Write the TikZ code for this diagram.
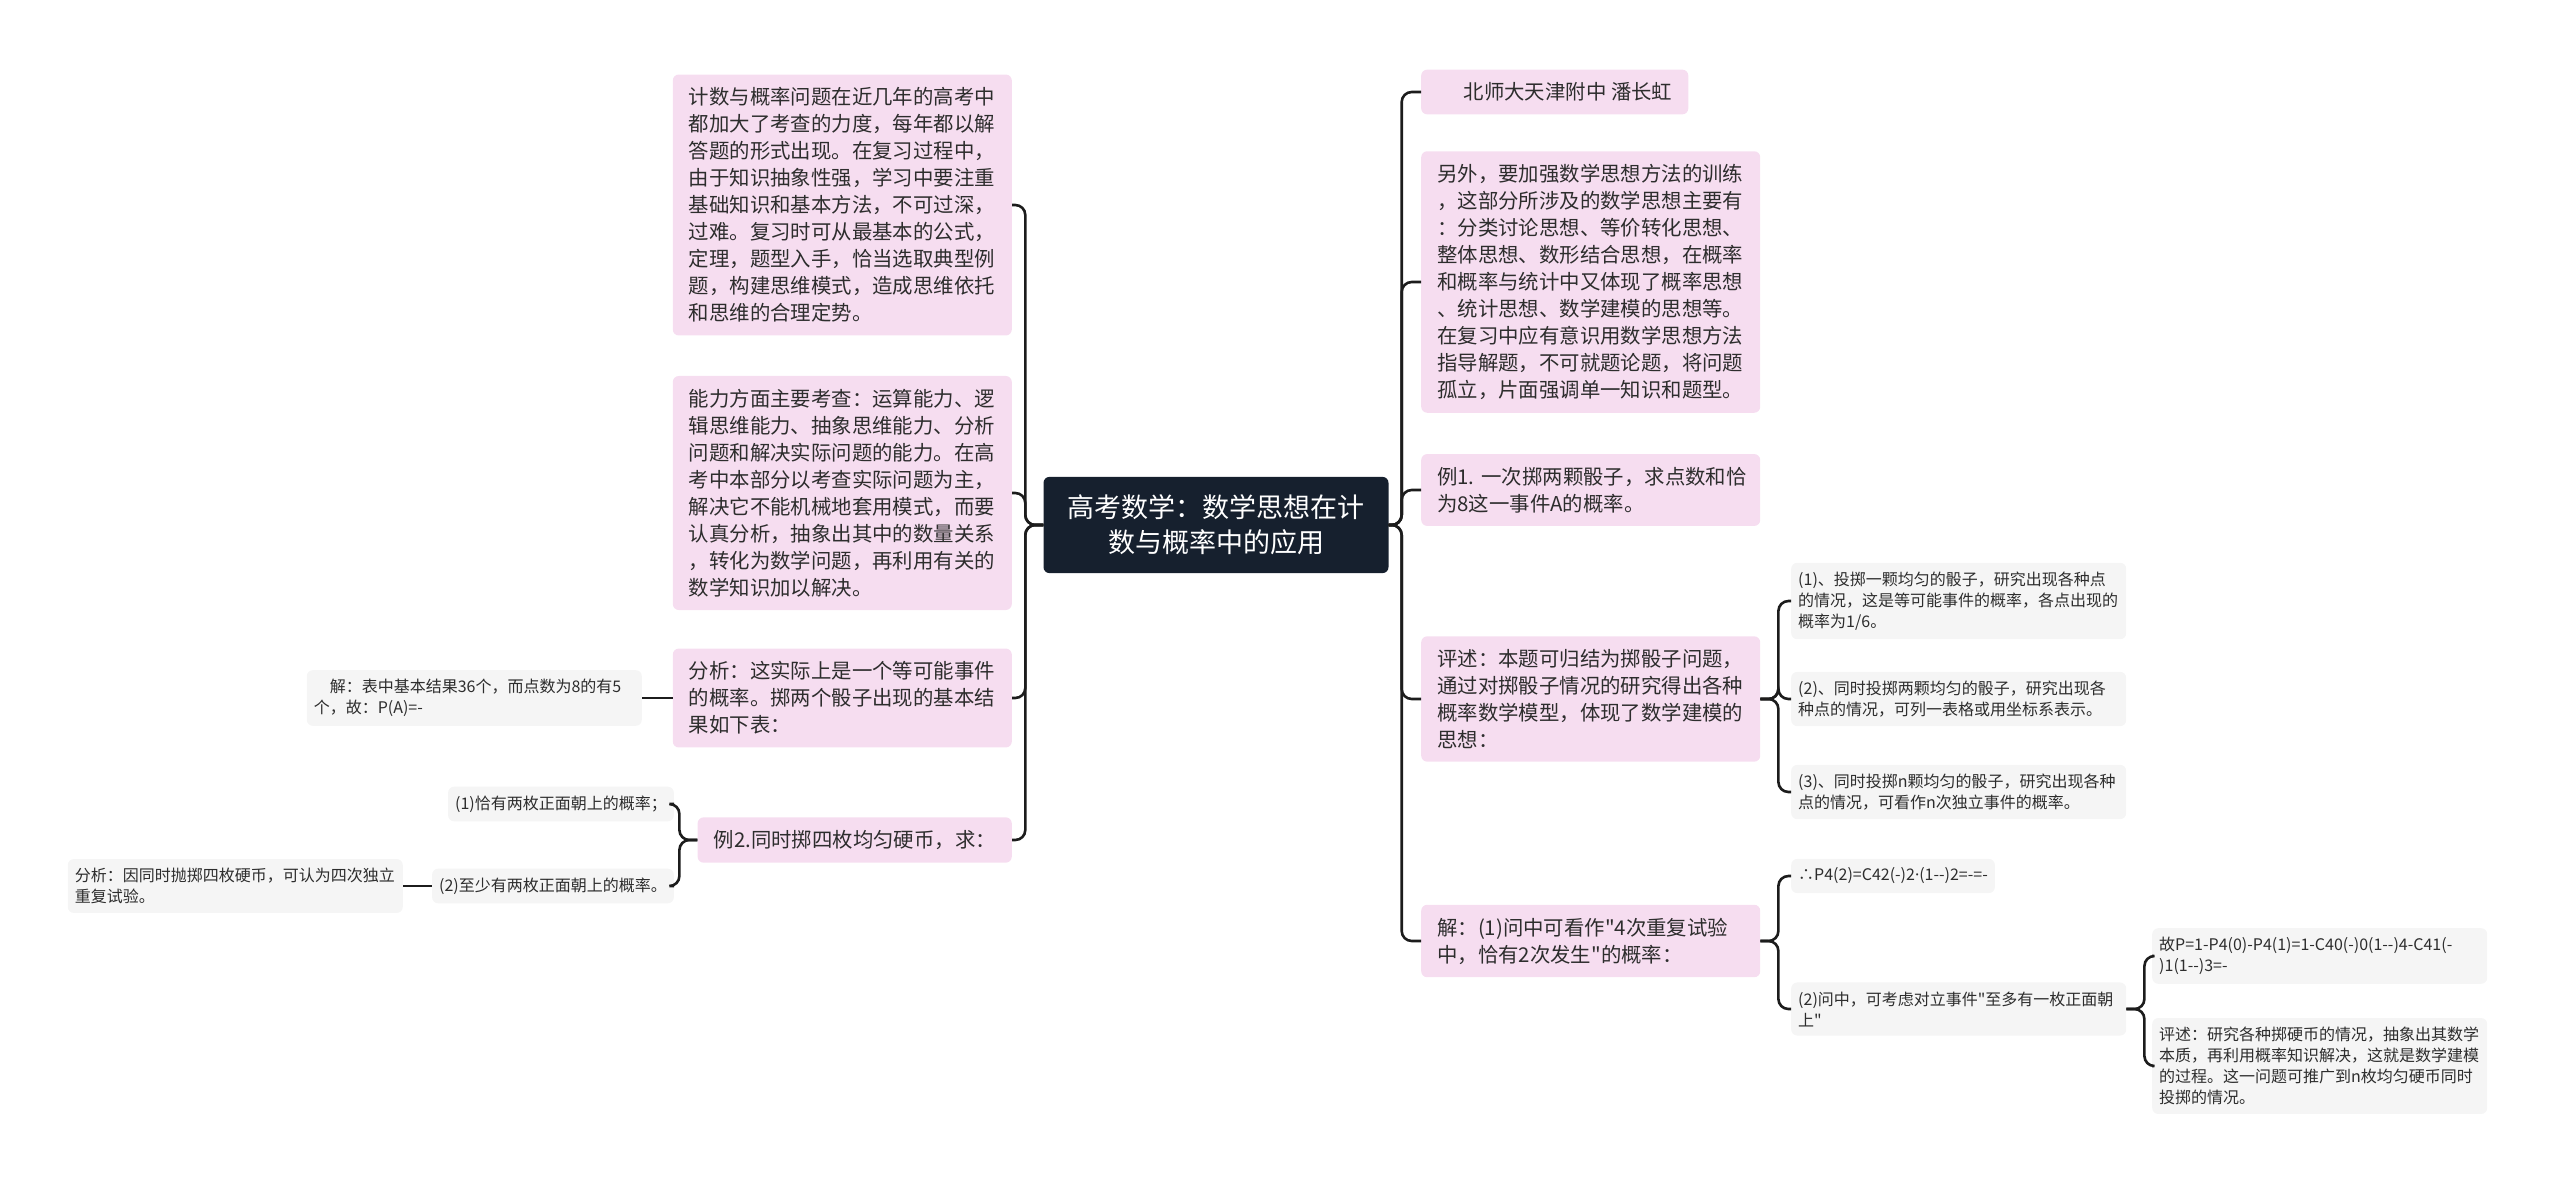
\documentclass[tikz,border=0pt]{standalone}
\usepackage{fontspec}
\newfontfamily\cjk{Noto Sans CJK SC}
\newfontfamily\latin{Noto Sans}

\definecolor{rootbg}{RGB}{22,32,46}
\definecolor{pinkbg}{RGB}{246,221,240}
\definecolor{graybg}{RGB}{245,245,245}
\definecolor{ink}{RGB}{45,45,45}
\definecolor{wire}{RGB}{28,28,28}

\tikzset{
    root/.style={fill=rootbg, text=white, rounded corners=6pt, align=center,
        inner xsep=24pt, inner ysep=18pt, font=\cjk\fontsize{27}{35}\selectfont},
    sub/.style={fill=pinkbg, text=ink, rounded corners=6pt, align=left,
        inner xsep=16pt, inner ysep=13pt, font=\cjk\fontsize{20.4}{27}\selectfont},
    leaf/.style={fill=graybg, text=ink, rounded corners=6pt, align=left,
        inner xsep=7pt, inner ysep=9pt, font=\cjk\fontsize{16}{21}\selectfont},
    subwide/.style={sub, text width=307pt},
    leafwide/.style={leaf, text width=321pt},
    link/.style={draw=wire, line width=2.6pt, rounded corners=10pt},
}

\begin{document}
\begin{tikzpicture}[x=1pt, y=-1pt]
    \useasboundingbox (0,0) rectangle (2560,1186);

    \node [root] (root) at (1216,525) {高考数学：数学思想在计\\数与概率中的应用};

    % left branches
    \node [subwide, anchor=east] (a1) at (1012,205) {计数与概率问题在近几年的高考中\\都加大了考查的力度，每年都以解\\答题的形式出现。在复习过程中，\\由于知识抽象性强，学习中要注重\\基础知识和基本方法，不可过深，\\过难。复习时可从最基本的公式，\\定理，题型入手，恰当选取典型例\\题，构建思维模式，造成思维依托\\和思维的合理定势。};
    \node [subwide, anchor=east] (a2) at (1012,493) {能力方面主要考查：运算能力、逻\\辑思维能力、抽象思维能力、分析\\问题和解决实际问题的能力。在高\\考中本部分以考查实际问题为主，\\解决它不能机械地套用模式，而要\\认真分析，抽象出其中的数量关系\\，转化为数学问题，再利用有关的\\数学知识加以解决。};
    \node [subwide, anchor=east] (a3) at (1012,698) {分析：这实际上是一个等可能事件\\的概率。掷两个骰子出现的基本结\\果如下表：};
    \node [leafwide, anchor=east] (b1) at (642,698) {\hspace*{1em}解：表中基本结果36个，而点数为8的有5\\个，故：P(A)=-};
    \node [sub, anchor=east] (a4) at (1012,840) {例2.同时掷四枚均匀硬币，求：};
    \node [leaf, anchor=east] (c1) at (674,804) {(1)恰有两枚正面朝上的概率；};
    \node [leaf, anchor=east] (c2) at (674,886) {(2)至少有两枚正面朝上的概率。};
    \node [leafwide, anchor=east] (d1) at (403,886) {分析：因同时抛掷四枚硬币，可认为四次独立\\重复试验。};

    % right branches
    \node [sub, anchor=west] (r1) at (1421,92) {\hspace*{1.3em}北师大天津附中 潘长虹};
    \node [subwide, anchor=west] (r2) at (1421,282) {另外，要加强数学思想方法的训练\\，这部分所涉及的数学思想主要有\\：分类讨论思想、等价转化思想、\\整体思想、数形结合思想，在概率\\和概率与统计中又体现了概率思想\\、统计思想、数学建模的思想等。\\在复习中应有意识用数学思想方法\\指导解题，不可就题论题，将问题\\孤立，片面强调单一知识和题型。};
    \node [subwide, anchor=west] (r3) at (1421,490) {例1.~一次掷两颗骰子，求点数和恰\\为8这一事件A的概率。};
    \node [subwide, anchor=west] (r4) at (1421,699) {评述：本题可归结为掷骰子问题，\\通过对掷骰子情况的研究得出各种\\概率数学模型，体现了数学建模的\\思想：};
    \node [subwide, anchor=west] (r5) at (1421,941) {解：(1)问中可看作"4次重复试验\\中，恰有2次发生"的概率：};

    \node [leafwide, anchor=west] (s1) at (1791,601) {(1)、投掷一颗均匀的骰子，研究出现各种点\\的情况，这是等可能事件的概率，各点出现的\\概率为1/6。};
    \node [leafwide, anchor=west] (s2) at (1791,699) {(2)、同时投掷两颗均匀的骰子，研究出现各\\种点的情况，可列一表格或用坐标系表示。};
    \node [leafwide, anchor=west] (s3) at (1791,792) {(3)、同时投掷n颗均匀的骰子，研究出现各种\\点的情况，可看作n次独立事件的概率。};
    \node [leaf, anchor=west] (t1) at (1791,876) {∴P4(2)=C42(-)2{\latin ·}(1-{}-)2=-=-};
    \node [leafwide, anchor=west] (t2) at (1791,1009) {(2)问中，可考虑对立事件"至多有一枚正面朝\\上"};
    \node [leafwide, anchor=west] (u1) at (2152,956) {故P=1-P4(0)-P4(1)=1-C40(-)0(1-{}-)4-C41(-\\)1(1-{}-)3=-};
    \node [leafwide, anchor=west] (u2) at (2152,1066) {评述：研究各种掷硬币的情况，抽象出其数学\\本质，再利用概率知识解决，这就是数学建模\\的过程。这一问题可推广到n枚均匀硬币同时\\投掷的情况。};

    \foreach \n in {a1,a2,a3,a4}
        \draw [link] (root.west) -- ++(-18,0) |- (\n.east);
    \foreach \n in {r1,r2,r3,r4,r5}
        \draw [link] (root.east) -- ++(13,0) |- (\n.west);
    \draw [link] (a3.west) -- (b1.east);
    \foreach \n in {c1,c2}
        \draw [link] (a4.west) -- ++(-18,0) |- (\n.east);
    \draw [link] (c2.west) -- (d1.east);
    \foreach \n in {s1,s2,s3}
        \draw [link] (r4.east) -- ++(18,0) |- (\n.west);
    \foreach \n in {t1,t2}
        \draw [link] (r5.east) -- ++(18,0) |- (\n.west);
    \foreach \n in {u1,u2}
        \draw [link] (t2.east) -- ++(18,0) |- (\n.west);
\end{tikzpicture}
\end{document}
